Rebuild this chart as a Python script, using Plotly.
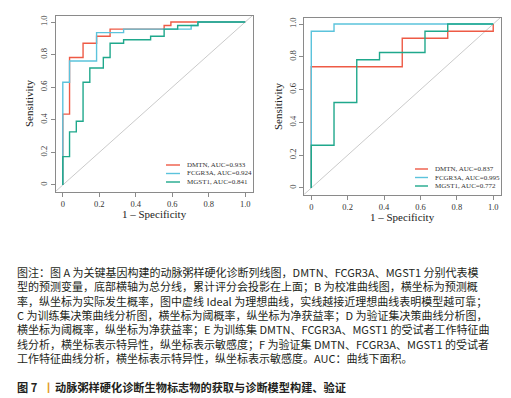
import plotly.graph_objects as go

W, H = 511, 398

# ---------------- data ----------------
genes = ["DMTN", "FCGR3A", "MGST1"]
colors = ["#EE5A45", "#5BC3DC", "#1FA88C"]

# training set: 27 controls, 46 cases (cumulative counts at each threshold)
train_neg, train_pos = 27, 46
train_fp = {
    "DMTN":   [0, 0, 1, 3, 5, 7, 15, 16, 27],
    "FCGR3A": [0, 0, 1, 5, 9, 19, 20, 27],
    "MGST1":  [0, 0, 1, 2, 3, 4, 6, 7, 9, 13, 15, 17, 20, 27],
}
train_tp = {
    "DMTN":   [0, 20, 36, 40, 42, 44, 45, 46, 46],
    "FCGR3A": [0, 29, 35, 43, 44, 45, 46, 46],
    "MGST1":  [0, 8, 15, 18, 29, 33, 36, 40, 41, 42, 44, 45, 46, 46],
}
train_auc = {"DMTN": "0.933", "FCGR3A": "0.924", "MGST1": "0.841"}

# validation set: 8 controls, 23 cases
valid_neg, valid_pos = 8, 23
valid_fp = {
    "DMTN":   [0, 0, 4, 6, 8, 8],
    "FCGR3A": [0, 0, 1, 8],
    "MGST1":  [0, 0, 1, 2, 3, 5, 6, 8],
}
valid_tp = {
    "DMTN":   [0, 17, 21, 22, 23, 23],
    "FCGR3A": [0, 22, 23, 23],
    "MGST1":  [0, 6, 12, 18, 19, 22, 23, 23],
}
valid_auc = {"DMTN": "0.837", "FCGR3A": "0.995", "MGST1": "0.772"}

tick_vals = [0, 0.2, 0.4, 0.6, 0.8, 1.0]
tick_text = ["0", "0.2", "0.4", "0.6", "0.8", "1.0"]

caption_lines = [
    "图注：图 A 为关键基因构建的动脉粥样硬化诊断列线图，DMTN、FCGR3A、MGST1 分别代表模",
    "型的预测变量，底部横轴为总分线，累计评分会投影在上面；B 为校准曲线图，横坐标为预测概",
    "率，纵坐标为实际发生概率，图中虚线 Ideal 为理想曲线，实线越接近理想曲线表明模型越可靠；",
    "C 为训练集决策曲线分析图，横坐标为阈概率，纵坐标为净获益率；D 为验证集决策曲线分析图，",
    "横坐标为阈概率，纵坐标为净获益率；E 为训练集 DMTN、FCGR3A、MGST1 的受试者工作特征曲",
    "线分析，横坐标表示特异性，纵坐标表示敏感度；F 为验证集 DMTN、FCGR3A、MGST1 的受试者",
    "工作特征曲线分析，横坐标表示特异性，纵坐标表示敏感度。AUC：曲线下面积。",
]
title_num = "图 7"
title_bar = "丨"
title_text = "动脉粥样硬化诊断生物标志物的获取与诊断模型构建、验证"

# ---------------- helpers ----------------
def px(x):
    return x / W

def py(y):
    return 1 - y / H

serif = "Liberation Serif, Times New Roman, serif"
cjk = "Noto Sans CJK SC, Noto Sans, sans-serif"

fig = go.Figure()

panels = [
    dict(xa="x", ya="y", fp=train_fp, tp=train_tp, nn=train_neg, npos=train_pos,
         auc=train_auc, xdom=(47.5, 244.5), ydom=(7.5, 183.5),
         leg_x=(158, 172, 177), leg_y=(157, 165.5, 174)),
    dict(xa="x2", ya="y2", fp=valid_fp, tp=valid_tp, nn=valid_neg, npos=valid_pos,
         auc=valid_auc, xdom=(296, 492.5), ydom=(9.5, 186.5),
         leg_x=(407, 420, 425), leg_y=(161, 169.5, 178)),
]

annotations = []
shapes = []

for i, p in enumerate(panels):
    # diagonal reference
    fig.add_trace(go.Scatter(x=[-0.04, 1.04], y=[-0.04, 1.04], mode="lines",
                             line=dict(color="#C4C4C4", width=0.9),
                             xaxis=p["xa"], yaxis=p["ya"], showlegend=False,
                             hoverinfo="skip"))
    for g, c in zip(genes, colors):
        xs = [v / p["nn"] for v in p["fp"][g]]
        ys = [v / p["npos"] for v in p["tp"][g]]
        fig.add_trace(go.Scatter(x=xs, y=ys, mode="lines", line_shape="hv",
                                 line=dict(color=c, width=1.4),
                                 xaxis=p["xa"], yaxis=p["ya"], showlegend=False,
                                 name=g))
    # legend (manual)
    for j, (g, c) in enumerate(zip(genes, colors)):
        yy = p["leg_y"][j]
        shapes.append(dict(type="line", xref="paper", yref="paper",
                           x0=px(p["leg_x"][0]), x1=px(p["leg_x"][1]),
                           y0=py(yy), y1=py(yy), line=dict(color=c, width=1.4)))
        annotations.append(dict(text=f"{g}, AUC={p['auc'][g]}", xref="paper", yref="paper",
                                x=px(p["leg_x"][2]), y=py(yy), xanchor="left", yanchor="middle",
                                showarrow=False, font=dict(family=serif, size=7, color="#333333")))
    # axis titles
    cx = (p["xdom"][0] + p["xdom"][1]) / 2
    annotations.append(dict(text="1 – Specificity", xref="paper", yref="paper",
                            x=px(cx), y=py(p["ydom"][1] + 22), xanchor="center", yanchor="middle",
                            showarrow=False, font=dict(family=serif, size=11, color="#222222")))
    cy = (p["ydom"][0] + p["ydom"][1]) / 2
    annotations.append(dict(text="Sensitivity", xref="paper", yref="paper",
                            x=px(p["xdom"][0] - 26), y=py(cy), xanchor="center", yanchor="middle",
                            textangle=-90, showarrow=False,
                            font=dict(family=serif, size=11, color="#222222")))

axis_common = dict(range=[-0.04, 1.04], tickvals=tick_vals, ticktext=tick_text,
                   showgrid=False, zeroline=False, showline=True, mirror=True,
                   linecolor="#8A8A8A", linewidth=1, ticks="outside", ticklen=4,
                   tickcolor="#8A8A8A", tickfont=dict(family=serif, size=8.5, color="#333333"))

layout_axes = {}
for i, p in enumerate(panels):
    xk = "xaxis" if i == 0 else "xaxis2"
    yk = "yaxis" if i == 0 else "yaxis2"
    layout_axes[xk] = dict(axis_common, domain=[px(p["xdom"][0]), px(p["xdom"][1])],
                           anchor=p["ya"])
    layout_axes[yk] = dict(axis_common, domain=[py(p["ydom"][1]), py(p["ydom"][0])],
                           anchor=p["xa"], tickangle=-90)

# caption (one multi-line text block)
cap_size = 11
line_h = cap_size * 1.3
first_line_y = 264
n = len(caption_lines)
cap_center = first_line_y + (n - 1) * line_h / 2
annotations.append(dict(text="<br>".join(caption_lines), xref="paper", yref="paper",
                        x=px(7), y=py(cap_center), xanchor="left", yanchor="middle",
                        align="left", showarrow=False,
                        font=dict(family=cjk, size=cap_size, color="#231F20")))
ty = 379
annotations.append(dict(text=f"<b>{title_num}</b>", xref="paper", yref="paper", x=px(7), y=py(ty),
                        xanchor="left", yanchor="middle", showarrow=False,
                        font=dict(family=cjk, size=11.2, color="#231F20")))
annotations.append(dict(text=f"<b>{title_bar}</b>", xref="paper", yref="paper", x=px(33), y=py(ty),
                        xanchor="left", yanchor="middle", showarrow=False,
                        font=dict(family=cjk, size=11.2, color="#E39B2B")))
annotations.append(dict(text=f"<b>{title_text}</b>", xref="paper", yref="paper", x=px(45), y=py(ty),
                        xanchor="left", yanchor="middle", showarrow=False,
                        font=dict(family=cjk, size=11.2, color="#231F20")))

fig.update_layout(width=W, height=H, margin=dict(l=0, r=0, t=0, b=0),
                  paper_bgcolor="white", plot_bgcolor="white",
                  showlegend=False, annotations=annotations, shapes=shapes,
                  **layout_axes)

fig.write_html("out.html")
